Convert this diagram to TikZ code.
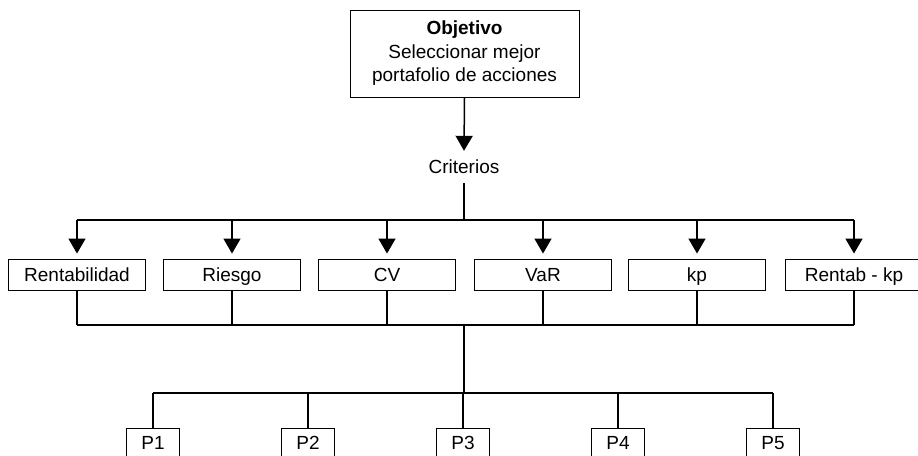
\documentclass[tikz,border=0pt]{standalone}
\usepackage{fontspec}
\setmainfont{Liberation Sans}
\usetikzlibrary{arrows.meta}
\newcommand\dfs{\fontsize{19}{23.5}\selectfont}
\begin{document}
\begin{tikzpicture}[x=1pt,y=-1pt,
  conn/.style={line width=1.5pt},
  arr/.style={conn,-{Triangle[width=17pt,length=15pt]}},
  objbox/.style={draw,line width=0.9pt,minimum width=229pt,minimum height=87pt,align=center,inner sep=0pt,font=\dfs},
  critbox/.style={draw,line width=0.9pt,minimum width=137pt,minimum height=31pt,text height=18pt,text depth=4pt,inner sep=0pt,font=\dfs},
  pbox/.style={draw,line width=0.9pt,minimum width=53pt,anchor=north,text height=13pt,text depth=0pt,inner ysep=8pt,inner xsep=0pt,font=\dfs}
]
\useasboundingbox (0,0) rectangle (918,455);
\fill[white] (0,0) rectangle (918,455);

\node[objbox] (obj) at (464.5,53.5) {\textbf{Objetivo}\\Seleccionar mejor\\portafolio de acciones};
\node[font=\dfs,inner xsep=0pt,inner ysep=9pt] (crit) at (464,167) {Criterios};

\node[critbox] (c1) at (77,274.5) {Rentabilidad};
\node[critbox] (c2) at (232,274.5) {Riesgo};
\node[critbox] (c3) at (387,274.5) {CV};
\node[critbox] (c4) at (543,274.5) {VaR};
\node[critbox] (c5) at (697,274.5) {kp};
\node[critbox] (c6) at (854,274.5) {Rentab - kp};

\node[pbox] (p1) at (153,428) {P1};
\node[pbox] (p2) at (308,428) {P2};
\node[pbox] (p3) at (463,428) {P3};
\node[pbox] (p4) at (618,428) {P4};
\node[pbox] (p5) at (773,428) {P5};

\coordinate (b1) at (464,220);
\coordinate (b2) at (464,325);
\coordinate (b3) at (464,393);

\draw[arr] (obj.south) -- (crit.north);
\draw[conn] (crit.south) -- (b1);
\draw[conn] (c1 |- b1) -- (c6 |- b1);
\foreach \c in {c1,c2,c3,c4,c5,c6}{
  \draw[arr,shorten >=5pt] (\c |- b1) -- (\c.north);
  \draw[conn] (\c.south) -- (\c.south |- b2);
}
\draw[conn] (c1 |- b2) -- (c6 |- b2);
\draw[conn] (b2) -- (b3);
\draw[conn] (p1 |- b3) -- (p5 |- b3);
\foreach \p in {p1,p2,p3,p4,p5}{
  \draw[conn] (\p.north |- b3) -- (\p.north);
}
\end{tikzpicture}
\end{document}
